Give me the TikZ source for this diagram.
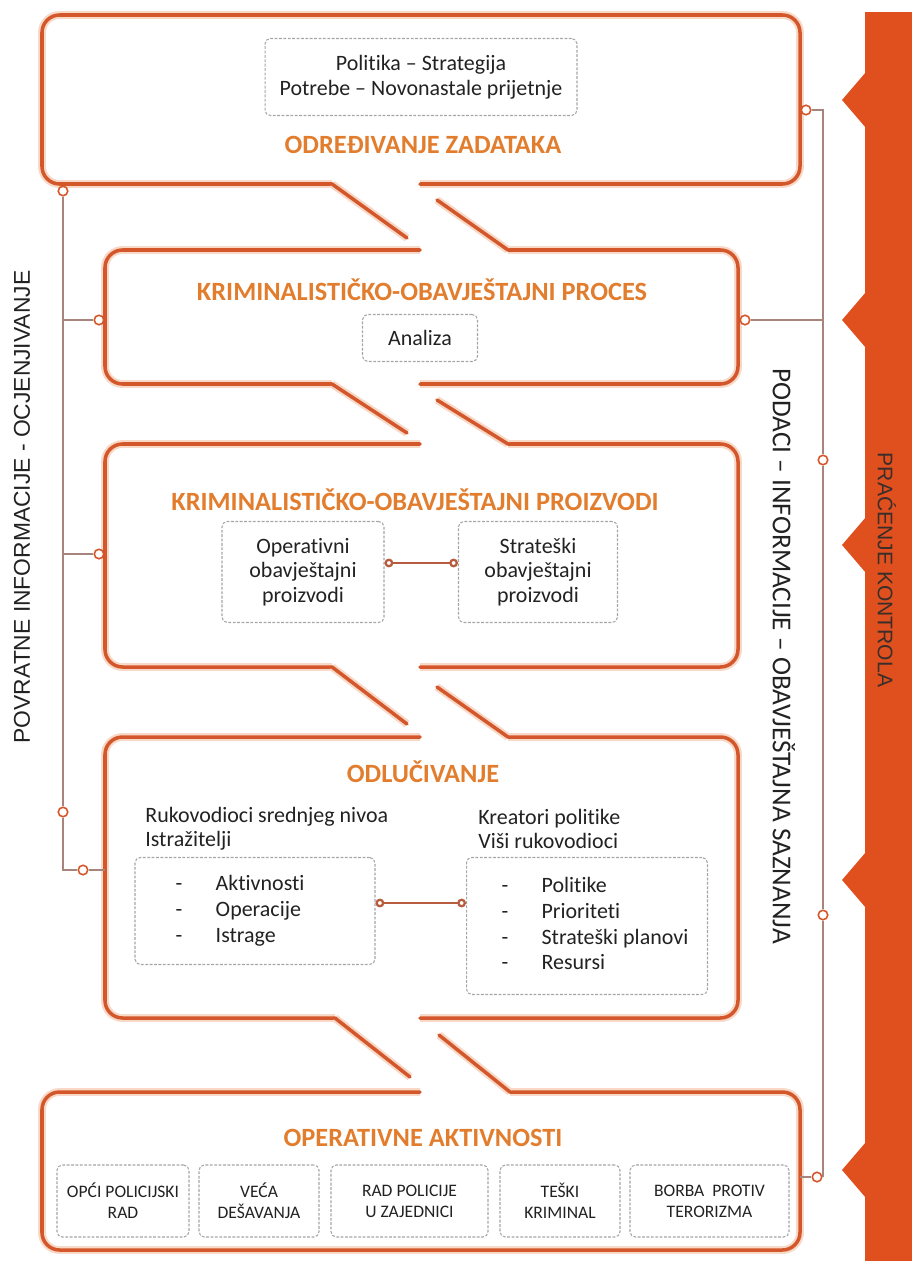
\documentclass[tikz,border=0pt]{standalone}
\usepackage{fontspec}
\setmainfont{Carlito}[Ligatures={NoCommon}]
\newfontfamily\sidefont{Liberation Sans}
\usetikzlibrary{arrows.meta}

\definecolor{stageorange}{HTML}{D4572B}
\definecolor{stageglow}{HTML}{F8D9C8}
\definecolor{titleorange}{HTML}{E27D2E}
\definecolor{barred}{HTML}{E0501F}
\definecolor{railbrown}{HTML}{A8857C}
\definecolor{linkbrown}{HTML}{B85C3E}
\definecolor{dotgray}{HTML}{A5A5A5}
\definecolor{inkdark}{HTML}{222222}
\definecolor{barink}{HTML}{3A2E2A}

\tikzset{
  stage/.style={draw=stageorange, line width=2pt, rounded corners=10pt, line cap=round,
    preaction={draw=stageglow, line width=4.5pt}},
  stagetitle/.style={text=titleorange, font=\fontsize{15}{17}\selectfont\bfseries, inner sep=0pt},
  itembox/.style={draw=dotgray, dash pattern=on 1.6pt off 0.9pt, line width=0.6pt,
    rounded corners=3pt, align=center, text=inkdark, font=\fontsize{12.5}{14}\selectfont, inner sep=0pt},
  listbox/.style={itembox, font=\fontsize{12.5}{14.7}\selectfont},
  smallbox/.style={itembox, font=\fontsize{10}{12}\selectfont, minimum height=1.44cm},
  leadtext/.style={text=inkdark, font=\fontsize{12.5}{13.5}\selectfont, align=left, inner sep=0pt},
  dot/.style={circle, draw=stageorange, fill=white, line width=0.9pt, inner sep=0pt, minimum size=0.19cm},
  rail/.style={draw=railbrown, line width=0.9pt},
  link/.style={draw=linkbrown, line width=1.3pt,
    {Circle[open,length=5pt,width=5pt]}-{Circle[open,length=5pt,width=5pt]}},
}

\begin{document}
\begin{tikzpicture}[x=0.02cm, y=-0.02cm]
  \useasboundingbox (0,0) rectangle (912,1261);

  % control bar on the right
  \fill[barred] (865,12) rectangle (912,1261);
  \foreach \y in {100,320,545,880,1170}
    \fill[barred] (866,\y-28) -- (842,\y) -- (866,\y+28) -- cycle;
  \node[rotate=-90, text=barink, font=\sidefont\fontsize{12}{14}\selectfont] (control) at (887,570) {PRAĆENJE KONTROLA};

  % stages
  \draw[stage] (332,184) -- (42,184) -- (42,15) -- (800,15) -- (800,184) -- (420,184);
  \draw[stage] (332,184) -- (407,238);

  \draw[stage] (420,250) -- (105,250) -- (105,384) -- (332,384);
  \draw[stage] (508,250) -- (738,250) -- (738,384) -- (420,384);
  \draw[stage] (437,200) -- (508,250);
  \draw[stage] (332,384) -- (407,433);

  \draw[stage] (420,444) -- (105,444) -- (105,667) -- (332,667);
  \draw[stage] (508,444) -- (738,444) -- (738,667) -- (420,667);
  \draw[stage] (437,400) -- (508,444);
  \draw[stage] (332,667) -- (407,724);

  \draw[stage] (420,737) -- (105,737) -- (105,1018) -- (335,1018);
  \draw[stage] (508,737) -- (738,737) -- (738,1018) -- (420,1018);
  \draw[stage] (437,687) -- (508,737);
  \draw[stage] (335,1018) -- (410,1077);

  \draw[stage] (420,1092) -- (42,1092) -- (42,1250) -- (800,1250) -- (800,1092) -- (510,1092);
  \draw[stage] (439,1035) -- (510,1092);

  % tasking
  \node[itembox, minimum width=6.24cm, minimum height=1.54cm] (policy) at (421,77)
    {Politika – Strategija\\Potrebe – Novonastale prijetnje};
  \node[stagetitle] (tasktitle) at (423,145) {ODREĐIVANJE ZADATAKA};

  % process
  \node[stagetitle] (proctitle) at (422,290) {KRIMINALISTIČKO-OBAVJEŠTAJNI PROCES};
  \node[itembox, minimum width=2.3cm, minimum height=0.94cm] (analysis) at (420,338) {Analiza};

  % products
  \node[stagetitle] (prodtitle) at (415,500) {KRIMINALISTIČKO-OBAVJEŠTAJNI PROIZVODI};
  \node[itembox, minimum width=3.24cm, minimum height=2.02cm] (opprod) at (303,572)
    {Operativni\\obavještajni\\proizvodi};
  \node[itembox, minimum width=3.18cm, minimum height=2.02cm] (stprod) at (538,572)
    {Strateški\\obavještajni\\proizvodi};
  \coordinate (prodlink) at (420,563);
  \draw[link] (opprod.east |- prodlink) -- (stprod.west |- prodlink);

  % decisions
  \node[stagetitle] (dectitle) at (423,772) {ODLUČIVANJE};
  \node[leadtext, anchor=west] (midlead) at (145,829) {Rukovodioci srednjeg nivoa\\Istražitelji};
  \node[leadtext, anchor=west] (toplead) at (478,829) {Kreatori politike\\Viši rukovodioci};
  \node[listbox, minimum width=4.8cm, minimum height=2.14cm] (midtasks) at (255,911)
    {\begin{tabular}{@{}l@{\hspace{19pt}}l@{\hspace{17pt}}} - & Aktivnosti\\ - & Operacije\\ - & Istrage\end{tabular}};
  \node[listbox, minimum width=4.82cm, minimum height=2.74cm] (toptasks) at (587,926)
    {\begin{tabular}{@{\hspace{9pt}}l@{\hspace{19pt}}l@{}} - & Politike\\ - & Prioriteti\\ - & Strateški planovi\\ - & Resursi\end{tabular}};
  \coordinate (declink) at (420,903);
  \draw[link] (midtasks.east |- declink) -- (toptasks.west |- declink);

  % operations
  \node[stagetitle] (opstitle) at (423,1138) {OPERATIVNE AKTIVNOSTI};
  \foreach \cx/\w/\lbl [count=\i] in {123/2.64/{OPĆI POLICIJSKI\\RAD}, 259/2.4/{VEĆA\\DEŠAVANJA},
      409.5/3.14/{RAD POLICIJE\\U ZAJEDNICI}, 560/2.4/{TEŠKI\\KRIMINAL}, 709.5/3.18/{BORBA~ PROTIV\\TERORIZMA}}
    \node[smallbox, minimum width=\w cm] (ops\i) at (\cx,1201) {\lbl};

  % feedback on the left
  \node[dot] (fbtop) at (63,191) {};
  \node[dot] (fbproc) at (99,320) {};
  \node[dot] (fbprod) at (99,554) {};
  \node[dot] (fblow) at (63,812) {};
  \node[dot] (fbdec) at (83,870) {};
  \coordinate (fbcorner) at (63,870);
  \coordinate (decwest) at (105,870);
  \draw[rail] (fbtop) -- (fblow) -- (fbcorner) -- (fbdec);
  \draw[rail] (fbdec) -- (decwest);
  \draw[rail] (fbtop |- fbproc) -- (fbproc);
  \draw[rail] (fbtop |- fbprod) -- (fbprod);
  \node[rotate=90, text=inkdark, font=\sidefont\fontsize{13}{15}\selectfont] (feedback) at (22,507)
    {POVRATNE INFORMACIJE - OCJENJIVANJE};

  % data on the right
  \node[dot] (pdtop) at (806,110) {};
  \node[dot] (pdproc) at (745,320) {};
  \node[dot] (pdprod) at (823,460) {};
  \node[dot] (pddec) at (823,915) {};
  \node[dot] (pdops) at (817,1177) {};
  \coordinate (pdcorner) at (823,110);
  \coordinate (opseast) at (800,1177);
  \draw[rail] (pdtop) -- (pdcorner) -- (pdprod) -- (pddec) -- (pddec |- pdops.east);
  \draw[rail] (pdproc) -- (pdcorner |- pdproc);
  \draw[rail] (opseast) -- (pdops);
  \node[rotate=-90, text=inkdark, font=\fontsize{15.5}{17}\selectfont] (intel) at (784,656)
    {PODACI – INFORMACIJE – OBAVJEŠTAJNA SAZNANJA};
\end{tikzpicture}
\end{document}
